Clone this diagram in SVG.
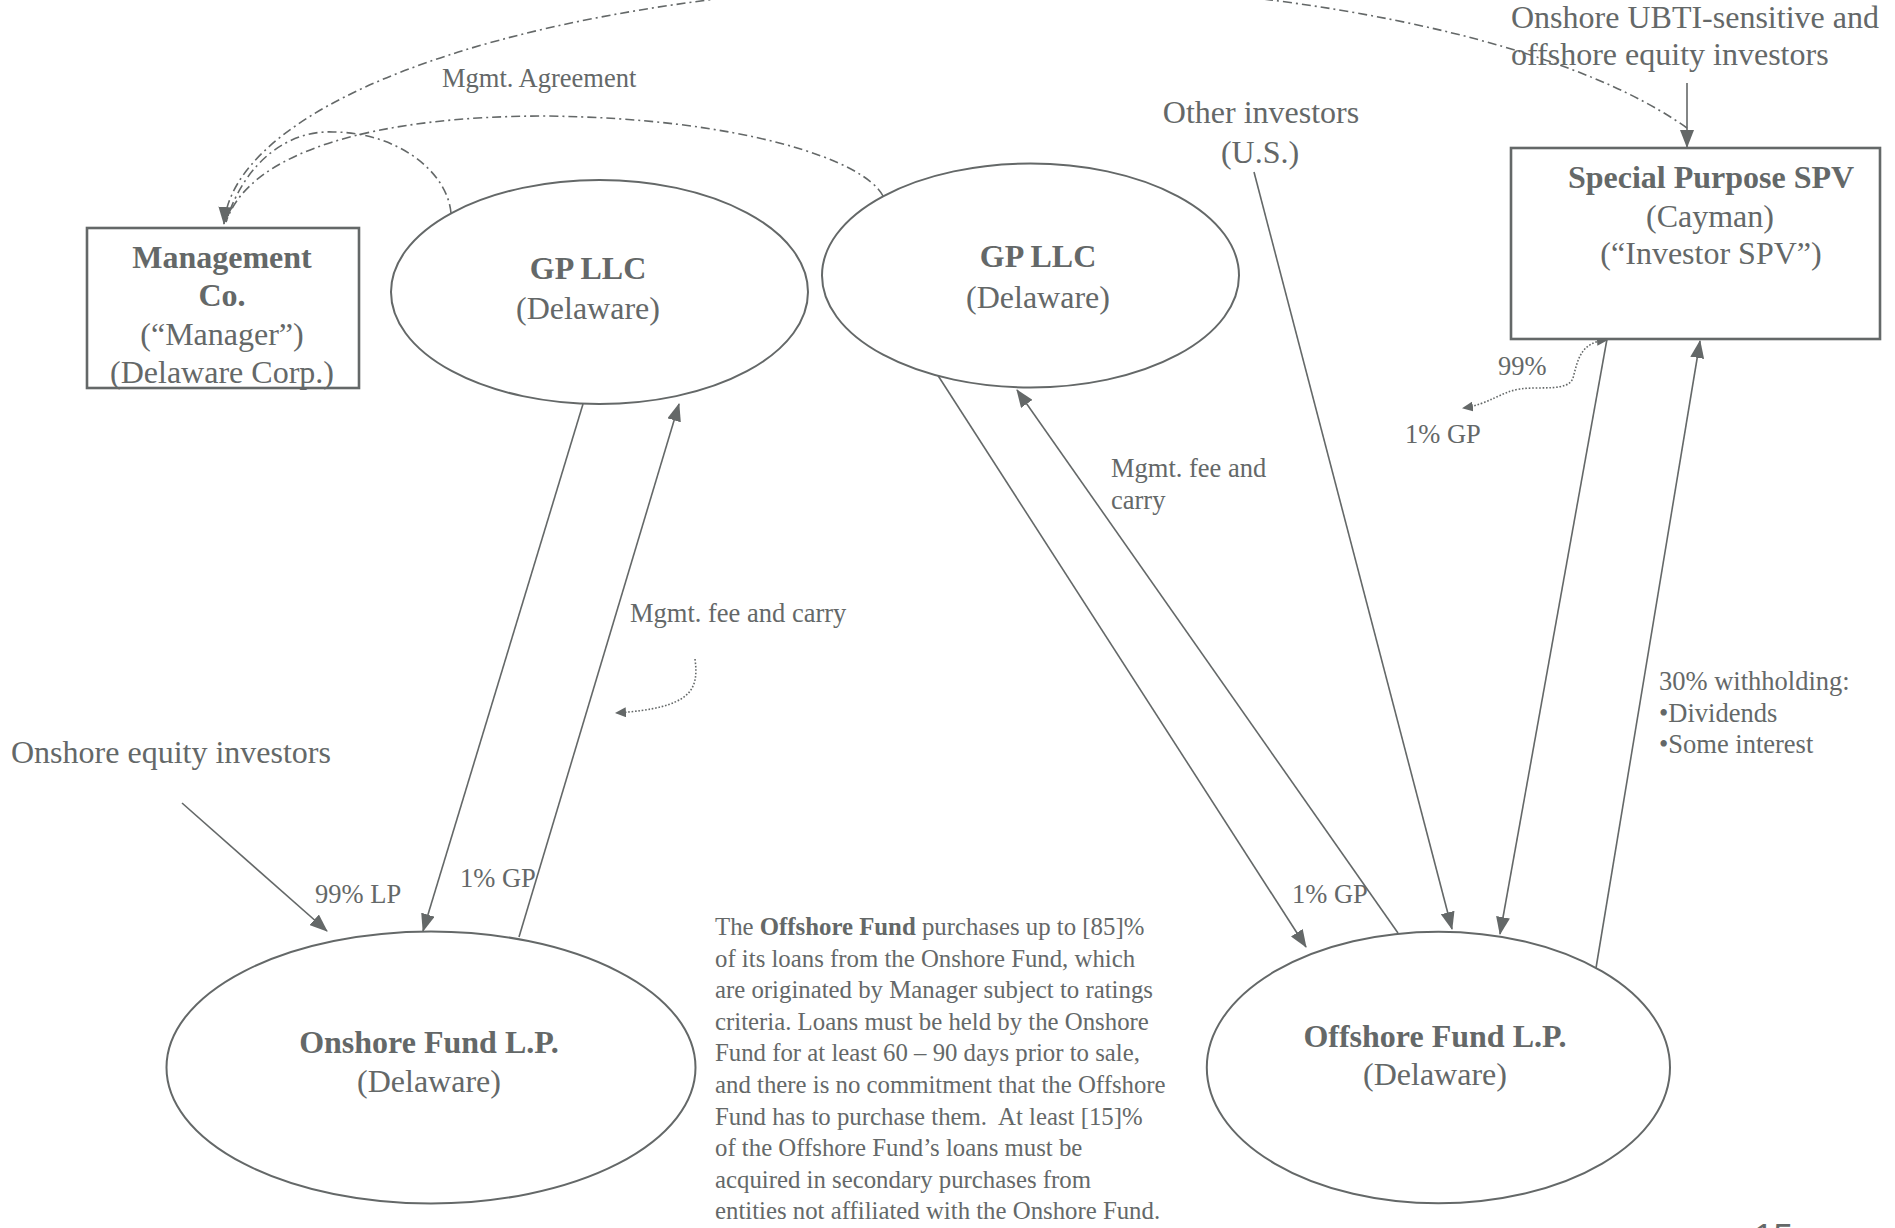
<svg xmlns="http://www.w3.org/2000/svg" width="1895" height="1228" viewBox="0 0 1895 1228">
<defs>
<style>
text{font-family:"Liberation Serif","Times New Roman",serif;fill:#646868}
.m{font-size:32px}
.s{font-size:26.5px}
.p{font-size:24.8px}
.b{font-weight:bold}
.c{text-anchor:middle}
.shape{fill:#fff;stroke:#646868;stroke-width:2}
.box{fill:#fff;stroke:#646868;stroke-width:2.6}
.ln{fill:none;stroke:#646868;stroke-width:1.6}
.dd{fill:none;stroke:#646868;stroke-width:1.6;stroke-dasharray:9 4 2 4}
.dot{fill:none;stroke:#646868;stroke-width:1.6;stroke-dasharray:1.6 1.8}
</style>
<marker id="ah" markerUnits="userSpaceOnUse" markerWidth="18" markerHeight="14" viewBox="0 0 18 14" refX="17" refY="7" orient="auto">
<path d="M0,0 L18,7 L0,14 z" fill="#646868"/>
</marker>
<marker id="sh" markerUnits="userSpaceOnUse" markerWidth="11" markerHeight="10" viewBox="0 0 11 10" refX="10" refY="5" orient="auto-start-reverse">
<path d="M0,0 L11,5 L0,10 z" fill="#646868"/>
</marker>
</defs>
<rect width="1895" height="1228" fill="#fff"/>

<g id="connectors">
<path class="dd" d="M1687 128 A766 248 0 0 0 224 224" marker-end="url(#ah)"/>
<path class="dd" d="M451 213 C447 170 395 132 333 132 C290 130 245 160 226 222"/>
<path class="dd" d="M883 196 C865 160 740 118 545 116 C380 116 250 150 226 222"/>
<line class="ln" x1="1687" y1="83" x2="1687" y2="147" marker-end="url(#ah)"/>
<line class="ln" x1="182" y1="803" x2="327" y2="931" marker-end="url(#ah)"/>
<line class="ln" x1="583" y1="404" x2="423" y2="931" marker-end="url(#ah)"/>
<line class="ln" x1="519" y1="937" x2="679" y2="404" marker-end="url(#ah)"/>
<line class="ln" x1="937" y1="374" x2="1306" y2="947" marker-end="url(#ah)"/>
<line class="ln" x1="1398" y1="933" x2="1017" y2="390" marker-end="url(#ah)"/>
<line class="ln" x1="1254" y1="172" x2="1452" y2="929" marker-end="url(#ah)"/>
<line class="ln" x1="1607" y1="339" x2="1500" y2="934" marker-end="url(#ah)"/>
<line class="ln" x1="1596" y1="968" x2="1700" y2="341" marker-end="url(#ah)"/>
<path class="dot" d="M695 659 C699 690 692 708 616 713" marker-end="url(#sh)"/>
<path class="dot" d="M1607 340 C1580 342 1578 360 1573 378 C1568 392 1540 386 1520 389 C1500 392 1490 404 1463 408" marker-start="url(#sh)" marker-end="url(#sh)"/>
</g>

<g id="management-co">
<rect class="box" x="87" y="228" width="272" height="160"/>
<text class="m b c" x="222" y="268">Management</text>
<text class="m b c" x="222" y="306">Co.</text>
<text class="m c" x="222" y="345">(“Manager”)</text>
<text class="m c" x="222" y="383">(Delaware Corp.)</text>
</g>

<g id="gp-llc-onshore">
<ellipse class="shape" cx="599.5" cy="292" rx="208.5" ry="112"/>
<text class="m b c" x="588" y="279">GP LLC</text>
<text class="m c" x="588" y="319">(Delaware)</text>
</g>

<g id="gp-llc-offshore">
<ellipse class="shape" cx="1030.5" cy="275.5" rx="208.5" ry="112"/>
<text class="m b c" x="1038" y="267">GP LLC</text>
<text class="m c" x="1038" y="308">(Delaware)</text>
</g>

<g id="investor-spv">
<rect class="box" x="1511" y="148" width="369" height="191"/>
<text class="m b c" x="1711" y="188">Special Purpose SPV</text>
<text class="m c" x="1710" y="227">(Cayman)</text>
<text class="m c" x="1711" y="264">(“Investor SPV”)</text>
</g>

<g id="onshore-fund">
<ellipse class="shape" cx="431" cy="1067.5" rx="264.5" ry="136"/>
<text class="m b c" x="429" y="1053">Onshore Fund L.P.</text>
<text class="m c" x="429" y="1092">(Delaware)</text>
</g>

<g id="offshore-fund">
<ellipse class="shape" cx="1438.4" cy="1067.5" rx="231.6" ry="135.8"/>
<text class="m b c" x="1435" y="1047">Offshore Fund L.P.</text>
<text class="m c" x="1435" y="1085">(Delaware)</text>
</g>

<g id="investors">
<text class="m" x="1511" y="28">Onshore UBTI-sensitive and</text>
<text class="m" x="1511" y="65">offshore equity investors</text>
<text class="m c" x="1261" y="123">Other investors</text>
<text class="m c" x="1260" y="163">(U.S.)</text>
<text class="m" x="11" y="763">Onshore equity investors</text>
</g>

<g id="labels">
<text class="s" x="442" y="87">Mgmt. Agreement</text>
<text class="s" x="630" y="622">Mgmt. fee and carry</text>
<text class="s" x="315" y="903">99% LP</text>
<text class="s" x="460" y="887">1% GP</text>
<text class="s" x="1111" y="477">Mgmt. fee and</text>
<text class="s" x="1111" y="509">carry</text>
<text class="s" x="1292" y="903">1% GP</text>
<text class="s" x="1498" y="375">99%</text>
<text class="s" x="1405" y="443">1% GP</text>
<text class="s" x="1659" y="690">30% withholding:</text>
<text class="s" x="1659" y="722">•Dividends</text>
<text class="s" x="1659" y="753">•Some interest</text>
</g>

<g id="note">
<text class="p" x="715" y="935">The <tspan class="b">Offshore Fund</tspan> purchases up to [85]%</text>
<text class="p" x="715" y="966.6">of its loans from the Onshore Fund, which</text>
<text class="p" x="715" y="998.2">are originated by Manager subject to ratings</text>
<text class="p" x="715" y="1029.8">criteria. Loans must be held by the Onshore</text>
<text class="p" x="715" y="1061.4">Fund for at least 60 – 90 days prior to sale,</text>
<text class="p" x="715" y="1093">and there is no commitment that the Offshore</text>
<text class="p" x="715" y="1124.6" xml:space="preserve">Fund has to purchase them.  At least [15]%</text>
<text class="p" x="715" y="1156.2">of the Offshore Fund’s loans must be</text>
<text class="p" x="715" y="1187.8">acquired in secondary purchases from</text>
<text class="p" x="715" y="1219.4">entities not affiliated with the Onshore Fund.</text>
</g>

<text x="1754" y="1248" style="font-family:'Liberation Sans',Arial,sans-serif;font-size:35px">15</text>
</svg>
